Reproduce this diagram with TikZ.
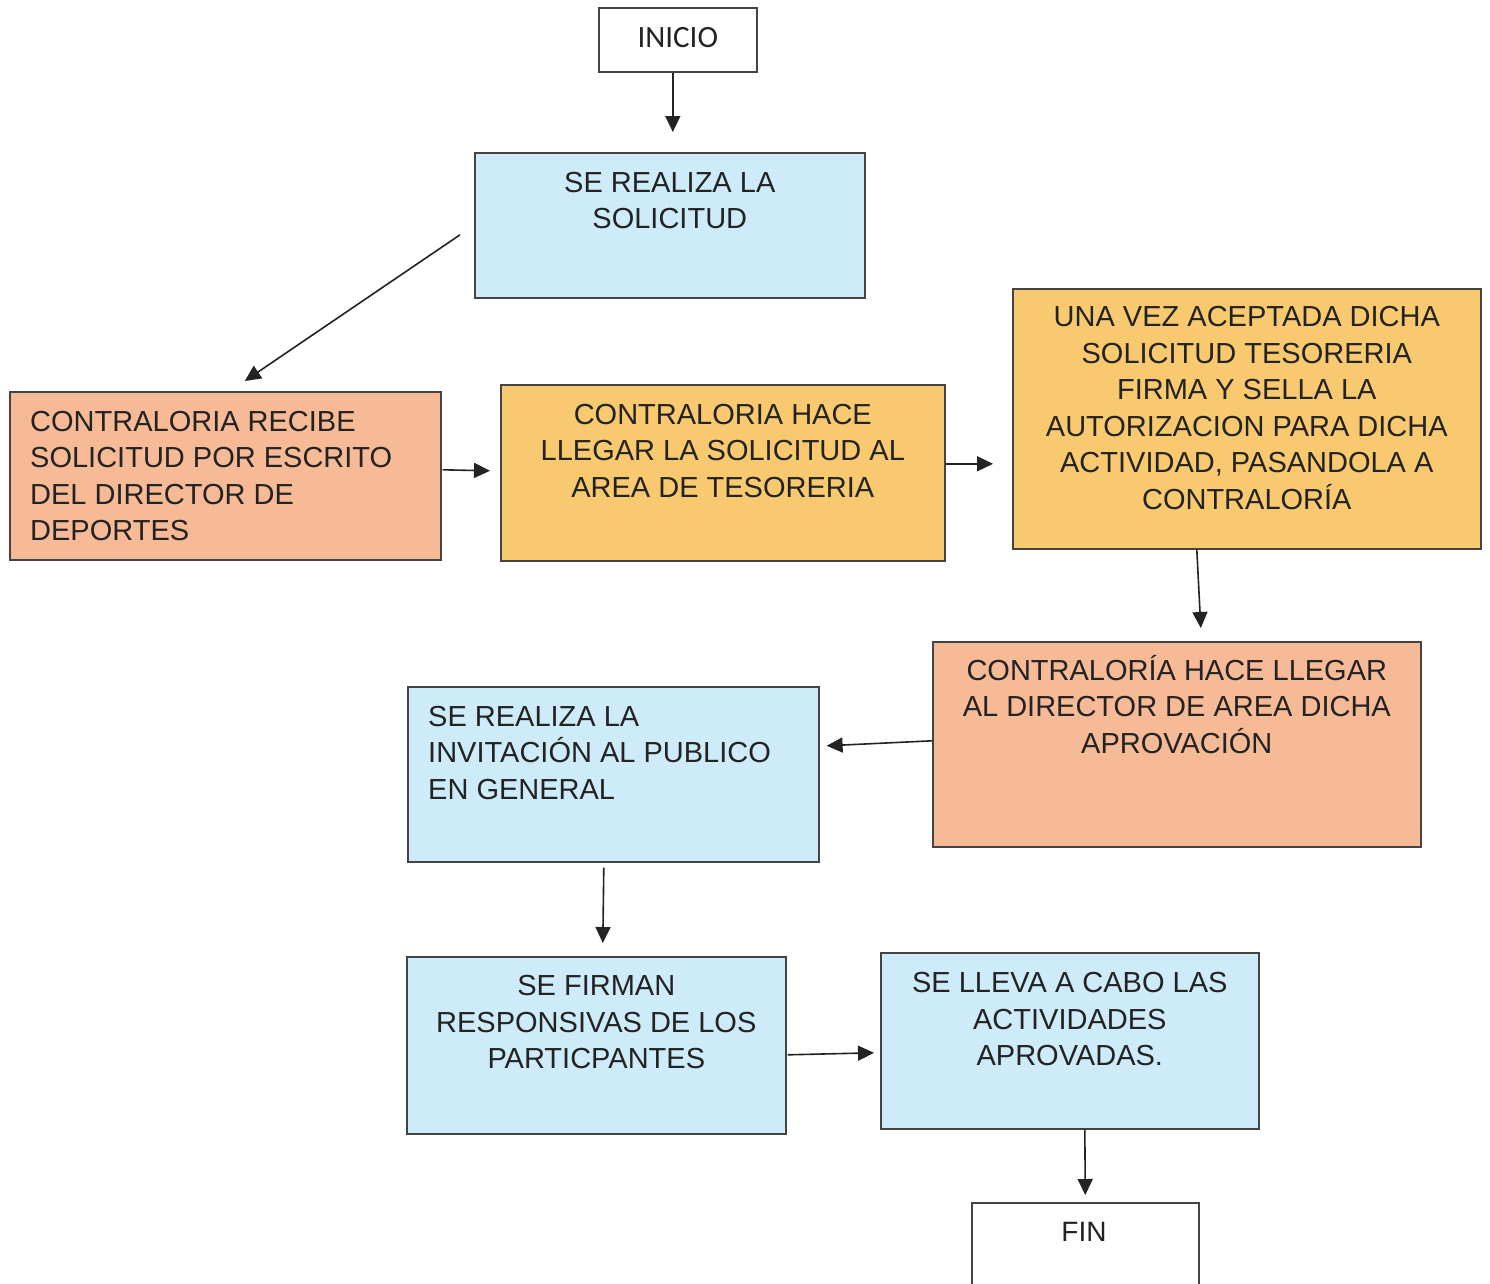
\documentclass[tikz,border=0pt]{standalone}
\usepackage{fontspec}
\setmainfont{Liberation Sans}
\newfontfamily\calib{Carlito}
\usetikzlibrary{arrows.meta,calc}
\definecolor{bluebox}{RGB}{205,235,249}
\definecolor{salmon}{RGB}{246,186,150}
\definecolor{gold}{RGB}{248,201,110}
\definecolor{ink}{RGB}{35,35,35}
\begin{document}
\begin{tikzpicture}[x=1pt,y=-1pt,
  box/.style={draw=ink!85, line width=1.6pt, inner sep=0pt, anchor=north west},
  txt/.style={text=ink, font=\fontsize{29}{36.5}\selectfont, inner sep=0pt, anchor=north},
  arr/.style={draw=ink, line width=1.6pt, -{Triangle[length=16pt,width=15pt]}}]
\useasboundingbox (0,0) rectangle (1490,1283);
\fill[white] (0,0) rectangle (1490,1283);

% boxes
\node[box, fill=white, minimum width=158pt, minimum height=64pt] (inicio) at (598,7) {};
\node[box, fill=bluebox, minimum width=390pt, minimum height=145pt] (sol) at (474,152) {};
\node[box, fill=salmon, minimum width=431pt, minimum height=168pt] (recibe) at (9,391) {};
\node[box, fill=gold, minimum width=444pt, minimum height=176pt] (hace) at (500,384) {};
\node[box, fill=gold, minimum width=468pt, minimum height=260pt] (una) at (1012,288) {};
\node[box, fill=salmon, minimum width=488pt, minimum height=205pt] (llegar) at (932,641) {};
\node[box, fill=bluebox, minimum width=411pt, minimum height=175pt] (invit) at (407,686) {};
\node[box, fill=bluebox, minimum width=379pt, minimum height=177pt] (firman) at (406,956) {};
\node[box, fill=bluebox, minimum width=378pt, minimum height=176pt] (lleva) at (880,952) {};
\node[box, fill=white, minimum width=227pt, minimum height=100pt] (fin) at (971,1202) {};

% texts
\node[text=ink, font=\calib\fontsize{31}{34}\selectfont, inner sep=0pt] (tinicio) at ($(inicio.center)+(0,-2)$) {INICIO};
\node[txt, align=center] (tsol) at ($(sol.north)+(0,20)$) {SE REALIZA LA\\SOLICITUD};
\node[txt, align=left, anchor=north west] (trecibe) at ($(recibe.north west)+(21,20)$) {CONTRALORIA RECIBE\\SOLICITUD POR ESCRITO\\DEL DIRECTOR DE\\DEPORTES};
\node[txt, align=center] (thace) at ($(hace.north)+(0,20)$) {CONTRALORIA HACE\\LLEGAR LA SOLICITUD AL\\AREA DE TESORERIA};
\node[txt, align=center] (tuna) at ($(una.north)+(0,18.5)$) {UNA VEZ ACEPTADA DICHA\\SOLICITUD TESORERIA\\FIRMA Y SELLA LA\\AUTORIZACION PARA DICHA\\ACTIVIDAD, PASANDOLA A\\CONTRALORÍA};
\node[txt, align=center] (tllegar) at ($(llegar.north)+(0,14)$) {CONTRALORÍA HACE LLEGAR\\AL DIRECTOR DE AREA DICHA\\APROVACIÓN};
\node[txt, align=left, anchor=north west] (tinvit) at ($(invit.north west)+(21,20)$) {SE REALIZA LA\\INVITACIÓN AL PUBLICO\\EN GENERAL};
\node[txt, align=center] (tfirman) at ($(firman.north)+(0,19.5)$) {SE FIRMAN\\RESPONSIVAS DE LOS\\PARTICPANTES};
\node[txt, align=center] (tlleva) at ($(lleva.north)+(0,20.5)$) {SE LLEVA A CABO LAS\\ACTIVIDADES\\APROVADAS.};
\node[text=ink, font=\fontsize{28}{32}\selectfont, inner sep=0pt] (tfin) at (1084,1232) {FIN};

% connectors
\draw[arr] ($(inicio.south)+(-5,0)$) -- ($(sol.north)+(3,-20)$);
\draw[arr] ($(sol.west)+(-14,9.5)$) -- ($(recibe.north)+(19.5,-10)$);
\draw[arr] ($(recibe.east)+(1,-6)$) -- ($(hace.west)+(-10,-2)$);
\draw[arr] ($(hace.east)+(0,-9)$) -- ($(una.west)+(-19,45)$);
\draw[arr] ($(una.south)+(-50,0)$) -- ($(llegar.north)+(24,-13)$);
\draw[arr] ($(llegar.west)+(0,-3.5)$) -- ($(invit.east)+(7,-28.5)$);
\draw[arr] ($(invit.south)+(-9.5,5)$) -- ($(firman.north)+(6.5,-13)$);
\draw[arr] ($(firman.east)+(1,9.5)$) -- ($(lleva.west)+(-6,12)$);
\draw[arr] ($(lleva.south)+(15,0)$) -- ($(fin.north)+(0,-7)$);
\end{tikzpicture}
\end{document}
